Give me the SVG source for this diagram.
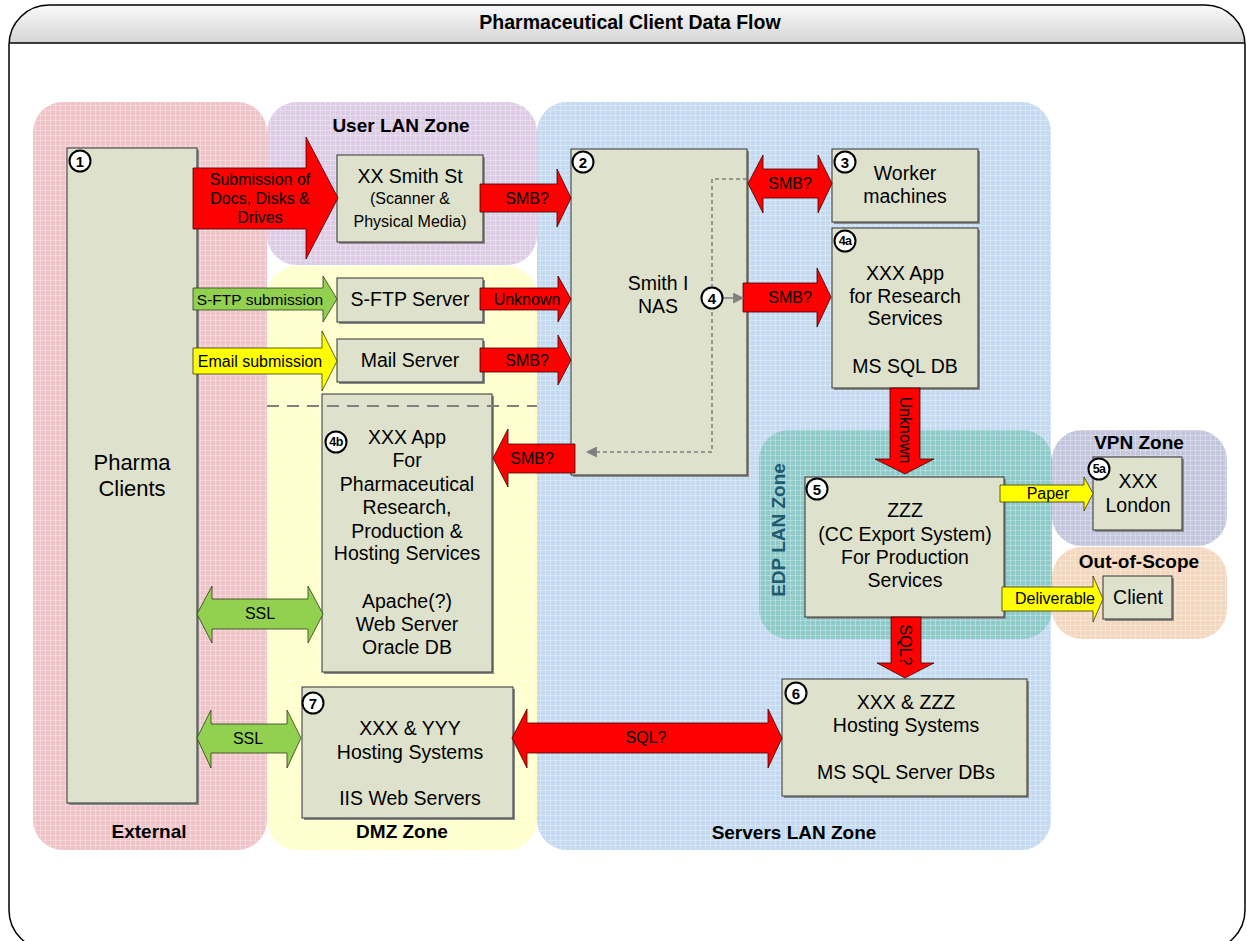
<svg xmlns="http://www.w3.org/2000/svg" width="1247" height="941" viewBox="0 0 1247 941">
<defs>
<linearGradient id="hdr" x1="0" y1="0" x2="0" y2="1">
<stop offset="0" stop-color="#FFFFFF"/>
<stop offset="1" stop-color="#D4D4D4"/>
</linearGradient>
<pattern id="grid" width="5" height="5" patternUnits="userSpaceOnUse">
<path d="M0 0.5H5M0.5 0V5" stroke="#FFFFFF" stroke-opacity="0.28" stroke-width="1" fill="none"/>
</pattern>
<clipPath id="frameClip"><rect x="9" y="5" width="1236" height="945" rx="40" ry="40"/></clipPath>
<marker id="gh" viewBox="0 0 10 10" refX="9" refY="5" markerWidth="12" markerHeight="11" markerUnits="userSpaceOnUse" orient="auto">
<path d="M0 0L10 5L0 10Z" fill="#7F7F7F"/>
</marker>
</defs>
<style>
text{font-family:"Liberation Sans",Arial,sans-serif;fill:#000}
.title{font-size:19.5px;font-weight:bold;text-anchor:middle}
.zl{font-size:19px;font-weight:bold;text-anchor:middle}
.t{font-size:19.5px;text-anchor:middle;dominant-baseline:central}
.ts{font-size:16px;text-anchor:middle;dominant-baseline:central}
.al{font-size:16px;text-anchor:middle;dominant-baseline:central}
.al15{font-size:15.5px;text-anchor:middle;dominant-baseline:central}
.box{fill:#DEE2CC;stroke:#333333;stroke-width:1}
.sh{fill:#8C8C8C}
.red{fill:#FF0000;stroke:#3A0000;stroke-width:0.8;stroke-linejoin:miter}
.green{fill:#92D050;stroke:#2E3D1A;stroke-width:0.8}
.yellow{fill:#FFFF00;stroke:#3A3A00;stroke-width:0.8}
.bc{fill:#FFFFFF;stroke:#000000;stroke-width:2}
.bt{font-size:15px;font-weight:bold;text-anchor:middle;dominant-baseline:central}
.bt2{font-size:12.5px;font-weight:bold;text-anchor:middle;dominant-baseline:central;letter-spacing:-0.6px}
.grid{fill:url(#grid)}
</style>

<!-- frame -->
<g id="frame">
<rect x="9" y="5" width="1236" height="945" rx="40" ry="40" fill="#FFFFFF"/>
<rect x="0" y="0" width="1247" height="43" fill="url(#hdr)" clip-path="url(#frameClip)"/>
<line x1="9" y1="43" x2="1245" y2="43" stroke="#000" stroke-width="1.5"/>
<rect x="9" y="5" width="1236" height="945" rx="40" ry="40" fill="none" stroke="#000" stroke-width="1.5"/>
<text class="title" x="630" y="29">Pharmaceutical Client Data Flow</text>
</g>

<!-- zones -->
<g id="zones">
<g id="zone-external">
<rect x="33" y="102" width="234" height="748" rx="30" fill="#EFC4C8"/>
<rect class="grid" x="33" y="102" width="234" height="748" rx="30"/>
<text class="zl" x="149" y="838">External</text>
</g>
<g id="zone-userlan">
<rect x="267" y="102" width="270" height="163" rx="30" fill="#DDCCE5"/>
<rect class="grid" x="267" y="102" width="270" height="163" rx="30"/>
<text class="zl" x="401" y="132">User LAN Zone</text>
</g>
<g id="zone-dmz">
<rect x="267" y="266" width="270" height="584" rx="30" fill="#FFFFCC"/>
<rect class="grid" x="267" y="266" width="270" height="584" rx="30"/>
<text class="zl" x="402" y="838">DMZ Zone</text>
</g>
<g id="zone-servers">
<rect x="537" y="102" width="514" height="748" rx="30" fill="#C3DAF0"/>
<rect class="grid" x="537" y="102" width="514" height="748" rx="30"/>
<text class="zl" x="794" y="839">Servers LAN Zone</text>
</g>
<g id="zone-edp">
<rect x="759" y="430" width="293" height="209" rx="30" fill="#8FCACA"/>
<rect class="grid" x="759" y="430" width="293" height="209" rx="30"/>
<text class="zl" x="0" y="0" transform="translate(785 530) rotate(-90)" style="fill:#1F5A70">EDP LAN Zone</text>
</g>
<g id="zone-vpn">
<rect x="1052" y="430" width="175" height="116" rx="30" fill="#C3C6DC"/>
<rect class="grid" x="1052" y="430" width="175" height="116" rx="30"/>
<text class="zl" x="1139" y="449">VPN Zone</text>
</g>
<g id="zone-oos">
<rect x="1052" y="547" width="175" height="92" rx="30" fill="#F3D7BF"/>
<rect class="grid" x="1052" y="547" width="175" height="92" rx="30"/>
<text class="zl" x="1139" y="568">Out-of-Scope</text>
</g>
</g>

<!-- nodes -->
<g id="nodes">
<g id="n1">
<rect class="sh" x="69" y="150" width="130" height="655"/>
<rect class="box" x="67" y="148" width="130" height="655"/>
<text class="t" x="132" y="462" style="font-size:22px">Pharma</text>
<text class="t" x="132" y="488" style="font-size:22px">Clients</text>
<circle class="bc" cx="80" cy="161" r="10.5"/><text class="bt" x="80" y="161">1</text>
</g>
<g id="n-smithst">
<rect class="sh" x="339" y="157" width="146" height="87"/>
<rect class="box" x="337" y="155" width="146" height="87"/>
<text class="t" x="410" y="176">XX Smith St</text>
<text class="ts" x="410" y="198">(Scanner &amp;</text>
<text class="ts" x="410" y="221">Physical Media)</text>
</g>
<g id="n-sftp">
<rect class="sh" x="339" y="280" width="146" height="44"/>
<rect class="box" x="337" y="278" width="146" height="44"/>
<text class="t" x="410" y="299">S-FTP Server</text>
</g>
<g id="n-mail">
<rect class="sh" x="339" y="341" width="146" height="43"/>
<rect class="box" x="337" y="339" width="146" height="43"/>
<text class="t" x="410" y="360">Mail Server</text>
</g>
<g id="n2">
<rect class="sh" x="573" y="151" width="176" height="326"/>
<rect class="box" x="571" y="149" width="176" height="326"/>
<text class="t" x="658" y="283">Smith I</text>
<text class="t" x="658" y="306">NAS</text>
<circle class="bc" cx="583" cy="162" r="10.5"/><text class="bt" x="583" y="162">2</text>
</g>
<g id="n3">
<rect class="sh" x="834" y="151" width="146" height="73"/>
<rect class="box" x="832" y="149" width="146" height="73"/>
<text class="t" x="905" y="173">Worker</text>
<text class="t" x="905" y="196">machines</text>
<circle class="bc" cx="845" cy="162" r="10.5"/><text class="bt" x="845" y="162">3</text>
</g>
<g id="n4a">
<rect class="sh" x="834" y="230" width="146" height="160"/>
<rect class="box" x="832" y="228" width="146" height="160"/>
<text class="t" x="905" y="273">XXX App</text>
<text class="t" x="905" y="296">for Research</text>
<text class="t" x="905" y="318">Services</text>
<text class="t" x="905" y="366">MS SQL DB</text>
<circle class="bc" cx="845" cy="241" r="10.5"/><text class="bt2" x="845" y="241">4a</text>
</g>
<g id="n4b">
<rect class="sh" x="324" y="396" width="170" height="278"/>
<rect class="box" x="322" y="394" width="170" height="278"/>
<text class="t" x="407" y="437">XXX App</text>
<text class="t" x="407" y="460">For</text>
<text class="t" x="407" y="484">Pharmaceutical</text>
<text class="t" x="407" y="507">Research,</text>
<text class="t" x="407" y="531">Production &amp;</text>
<text class="t" x="407" y="553">Hosting Services</text>
<text class="t" x="407" y="601">Apache(?)</text>
<text class="t" x="407" y="624">Web Server</text>
<text class="t" x="407" y="647">Oracle DB</text>
<circle class="bc" cx="336" cy="442" r="10.5"/><text class="bt2" x="336" y="442">4b</text>
</g>
<g id="n5">
<rect class="sh" x="807" y="479" width="199" height="140"/>
<rect class="box" x="805" y="477" width="199" height="140"/>
<text class="t" x="905" y="510">ZZZ</text>
<text class="t" x="905" y="534">(CC Export System)</text>
<text class="t" x="905" y="557">For Production</text>
<text class="t" x="905" y="580">Services</text>
<circle class="bc" cx="817" cy="489" r="10.5"/><text class="bt" x="817" y="489">5</text>
</g>
<g id="n5a">
<rect class="sh" x="1095" y="459" width="89" height="73"/>
<rect class="box" x="1093" y="457" width="89" height="73"/>
<text class="t" x="1138" y="481">XXX</text>
<text class="t" x="1138" y="505">London</text>
<circle class="bc" cx="1099" cy="469" r="10.5"/><text class="bt2" x="1099" y="469">5a</text>
</g>
<g id="n-client">
<rect class="sh" x="1105" y="578" width="69" height="43"/>
<rect class="box" x="1103" y="576" width="69" height="43"/>
<text class="t" x="1138" y="597">Client</text>
</g>
<g id="n6">
<rect class="sh" x="784" y="681" width="245" height="117"/>
<rect class="box" x="782" y="679" width="245" height="117"/>
<text class="t" x="906" y="702">XXX &amp; ZZZ</text>
<text class="t" x="906" y="725">Hosting Systems</text>
<text class="t" x="906" y="772">MS SQL Server DBs</text>
<circle class="bc" cx="796" cy="693" r="10.5"/><text class="bt" x="796" y="693">6</text>
</g>
<g id="n7">
<rect class="sh" x="304" y="689" width="211" height="131"/>
<rect class="box" x="302" y="687" width="211" height="131"/>
<text class="t" x="410" y="728">XXX &amp; YYY</text>
<text class="t" x="410" y="752">Hosting Systems</text>
<text class="t" x="410" y="798">IIS Web Servers</text>
<circle class="bc" cx="313" cy="703" r="10.5"/><text class="bt" x="313" y="703">7</text>
</g>
</g>

<!-- connectors -->
<g id="connectors">
<line x1="267" y1="406" x2="537" y2="406" stroke="#808080" stroke-width="2" stroke-dasharray="12 8"/>
<path d="M747 179H712V452H587" fill="none" stroke="#7F7F7F" stroke-width="1.5" stroke-dasharray="4 3" marker-end="url(#gh)"/>

<path class="red" d="M193 168H306V137L338 198L306 259V229H193Z"/>
<text class="al" x="260" y="179">Submission of</text>
<text class="al" x="260" y="198">Docs, Disks &amp;</text>
<text class="al" x="260" y="217">Drives</text>

<path class="red" d="M480 184H557V169L571 198L557 227V212H480Z"/>
<text class="al" x="527" y="198">SMB?</text>
<path class="red" d="M480 288H558V276L571 299L558 322V310H480Z"/>
<text class="al" x="527" y="299">Unknown</text>
<path class="red" d="M480 348H558V335L571 360L558 385V372H480Z"/>
<text class="al" x="527" y="360">SMB?</text>

<path class="green" d="M193 288H323V276L337 299L323 322V310H193Z"/>
<text class="al15" x="260" y="299">S-FTP submission</text>
<path class="yellow" d="M193 348H322V331L337 361L322 391V374H193Z"/>
<text class="al" x="260" y="361">Email submission</text>

<path class="red" d="M748 183.5L763 155V169H818V155L832 183.5L818 213V198H763V213Z"/>
<text class="al" x="790" y="183">SMB?</text>
<path class="red" d="M743 283H817V268L831 297L817 327V312H743Z"/>
<text class="al" x="790" y="297">SMB?</text>
<path class="red" d="M575 444H508V429L493 458L508 487V473H575Z"/>
<text class="al" x="532" y="458">SMB?</text>

<path class="red" d="M890 388V459H875L905 474L934 459H920V388Z"/>
<text class="al" x="0" y="0" transform="translate(905 430) rotate(90)">Unknown</text>
<path class="red" d="M891 617V663H877L905 678L934 663H921V617Z"/>
<text class="al" x="0" y="0" transform="translate(905 645) rotate(90)">SQL?</text>

<path class="yellow" d="M1000 485H1084V477L1093 493.5L1084 511V502H1000Z"/>
<text class="al" x="1048" y="493">Paper</text>
<path class="yellow" d="M1002 587H1093V576L1103 599L1093 622V611H1002Z"/>
<text class="al" x="1055" y="598">Deliverable</text>

<path class="green" d="M197 614L212 586V599H308V586L323 614L308 643V629H212V643Z"/>
<text class="al" x="260" y="613">SSL</text>
<path class="green" d="M197 738L211 710V724H287V710L301 738L287 768V753H211V768Z"/>
<text class="al" x="248" y="738">SSL</text>
<path class="red" d="M512 738L527 709V723H768V709L782 738L768 768V753H527V768Z"/>
<text class="al" x="646" y="737">SQL?</text>

<line x1="723" y1="298" x2="743" y2="298" stroke="#7F7F7F" stroke-width="1.5" marker-end="url(#gh)"/>
<circle class="bc" cx="712" cy="298" r="10.5"/><text class="bt" x="712" y="298">4</text>
</g>
</svg>
